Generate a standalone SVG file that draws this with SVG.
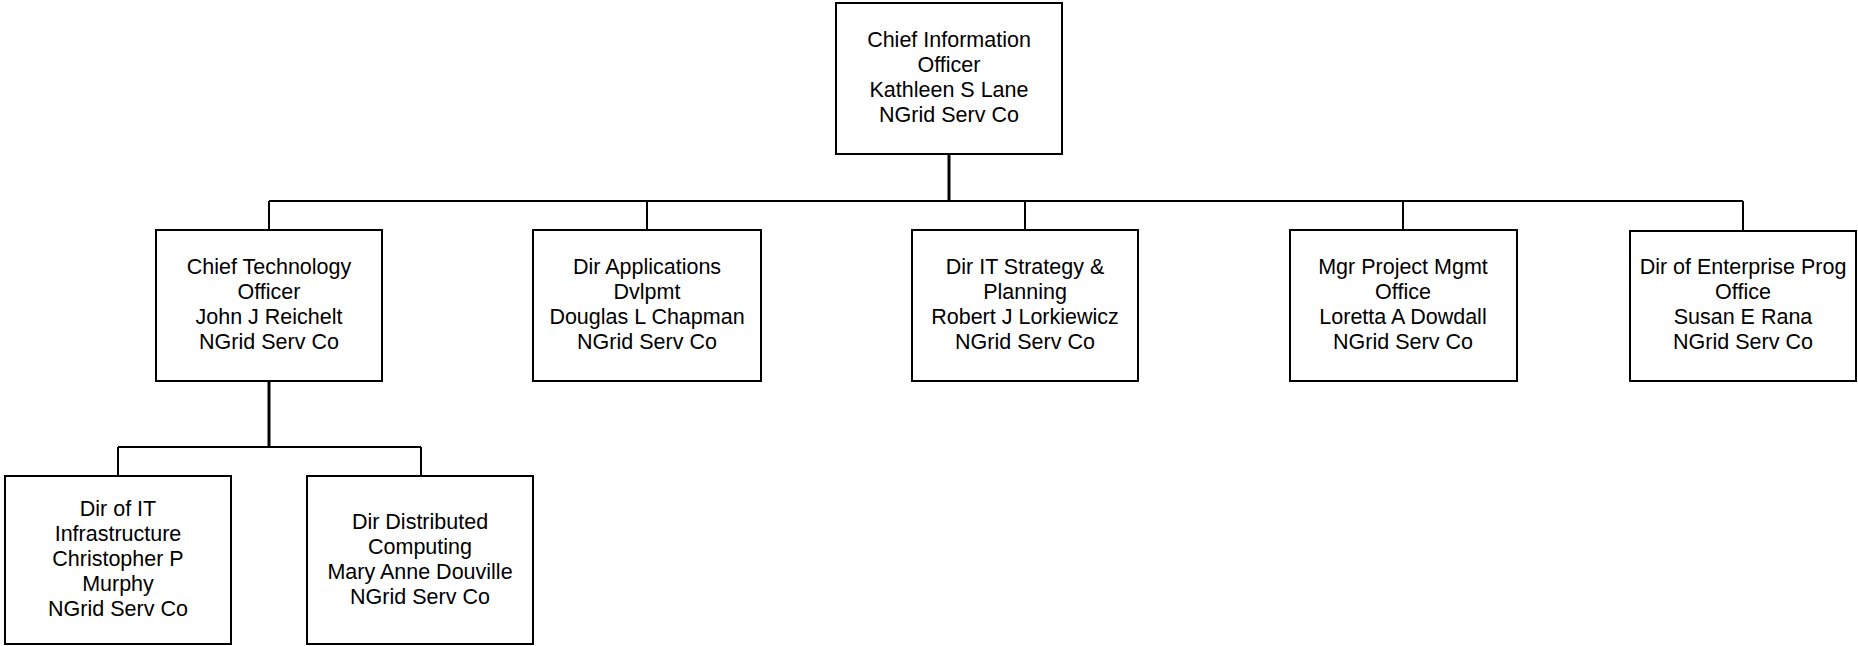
<svg xmlns="http://www.w3.org/2000/svg" width="1858" height="646" viewBox="0 0 1858 646">
<style>
.box{fill:#fff;stroke:#000;stroke-width:2}
.t{font-family:"Liberation Sans",Arial,sans-serif;font-size:21.5px;fill:#000;text-anchor:middle}
.c{fill:none;stroke:#000;stroke-width:2}
.ct{fill:none;stroke:#000;stroke-width:3}
</style>
<rect width="1858" height="646" fill="#fff"/>
<g id="connectors">
<path class="ct" d="M949 154V201"/>
<path class="c" d="M269 201H1743M269 201V230M647 201V230M1025 201V230M1403 201V230M1743 201V230"/>
<path class="ct" d="M269 381V447"/>
<path class="c" d="M118 447H421M118 447V476M421 447V476"/>
</g>
<g id="cio">
<rect class="box" x="836" y="3" width="226" height="151"/>
<text class="t" x="949" y="47">Chief Information</text>
<text class="t" x="949" y="72">Officer</text>
<text class="t" x="949" y="97">Kathleen S Lane</text>
<text class="t" x="949" y="122">NGrid Serv Co</text>
</g>
<g id="cto">
<rect class="box" x="156" y="230" width="226" height="151"/>
<text class="t" x="269" y="274">Chief Technology</text>
<text class="t" x="269" y="299">Officer</text>
<text class="t" x="269" y="324">John J Reichelt</text>
<text class="t" x="269" y="349">NGrid Serv Co</text>
</g>
<g id="apps">
<rect class="box" x="533" y="230" width="228" height="151"/>
<text class="t" x="647" y="274">Dir Applications</text>
<text class="t" x="647" y="299">Dvlpmt</text>
<text class="t" x="647" y="324">Douglas L Chapman</text>
<text class="t" x="647" y="349">NGrid Serv Co</text>
</g>
<g id="strategy">
<rect class="box" x="912" y="230" width="226" height="151"/>
<text class="t" x="1025" y="274">Dir IT Strategy &amp;</text>
<text class="t" x="1025" y="299">Planning</text>
<text class="t" x="1025" y="324">Robert J Lorkiewicz</text>
<text class="t" x="1025" y="349">NGrid Serv Co</text>
</g>
<g id="pmo">
<rect class="box" x="1290" y="230" width="227" height="151"/>
<text class="t" x="1403" y="274">Mgr Project Mgmt</text>
<text class="t" x="1403" y="299">Office</text>
<text class="t" x="1403" y="324">Loretta A Dowdall</text>
<text class="t" x="1403" y="349">NGrid Serv Co</text>
</g>
<g id="epo">
<rect class="box" x="1630" y="231" width="226" height="150"/>
<text class="t" x="1743" y="274">Dir of Enterprise Prog</text>
<text class="t" x="1743" y="299">Office</text>
<text class="t" x="1743" y="324">Susan E Rana</text>
<text class="t" x="1743" y="349">NGrid Serv Co</text>
</g>
<g id="infra">
<rect class="box" x="5" y="476" width="226" height="168"/>
<text class="t" x="118" y="516">Dir of IT</text>
<text class="t" x="118" y="541">Infrastructure</text>
<text class="t" x="118" y="566">Christopher P</text>
<text class="t" x="118" y="591">Murphy</text>
<text class="t" x="118" y="616">NGrid Serv Co</text>
</g>
<g id="distributed">
<rect class="box" x="307" y="476" width="226" height="168"/>
<text class="t" x="420" y="529">Dir Distributed</text>
<text class="t" x="420" y="554">Computing</text>
<text class="t" x="420" y="578.5">Mary Anne Douville</text>
<text class="t" x="420" y="603.5">NGrid Serv Co</text>
</g>
</svg>
